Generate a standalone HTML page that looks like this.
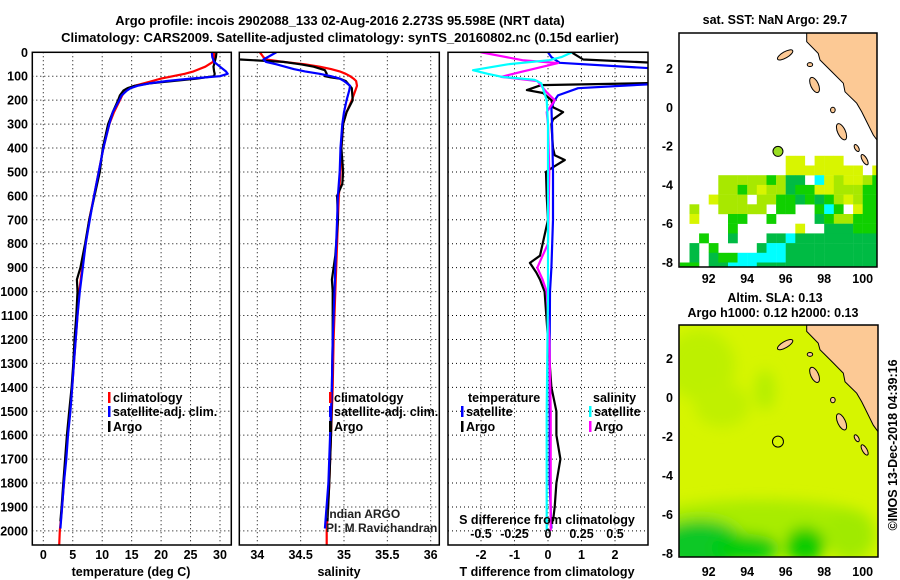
<!DOCTYPE html>
<html><head><meta charset="utf-8">
<style>
html,body{margin:0;padding:0;background:#fff;}
svg{display:block;font-family:"Liberation Sans",Arial,sans-serif;}
.b{font-weight:bold;font-size:12.5px;}
.t{font-weight:bold;font-size:13px;}
</style></head>
<body>
<svg id="chart" width="900" height="580" viewBox="0 0 900 580" xmlns="http://www.w3.org/2000/svg">
<defs>
<clipPath id="c1"><rect x="32.3" y="52.3" width="199" height="493"/></clipPath>
<clipPath id="c2"><rect x="239.3" y="52.3" width="200" height="493"/></clipPath>
<clipPath id="c3"><rect x="448" y="52.3" width="200" height="493"/></clipPath>
<clipPath id="m1"><rect x="679" y="33" width="198" height="234"/></clipPath>
<clipPath id="m2"><rect x="679" y="325" width="199" height="232"/></clipPath>
<filter id="blur" x="-50%" y="-50%" width="200%" height="200%"><feGaussianBlur stdDeviation="7"/></filter>
</defs>
<text class="t" x="340" y="25" text-anchor="middle">Argo profile: incois 2902088_133 02-Aug-2016 2.273S 95.598E (NRT data)</text>
<text class="t" x="340" y="42" text-anchor="middle">Climatology: CARS2009. Satellite-adjusted climatology: synTS_20160802.nc (0.15d earlier)</text>
<g id="grid"></g>
<g id="series"></g>
<g id="maps"></g>
<g id="frames"></g>
<g id="labels"></g>
</svg>
<script>
// ---------- Data ----------
const tempDepth = [0,20,40,60,80,90,100,110,120,130,140,150,160,180,200,250,300,400,500,600,700,800,900,1000,1100,1200,1300,1400,1500,1600,1700,1800,1900,2000,2060];
const tempClim  = [29.0,29.0,28.8,27.5,25.5,24,22,20,18.5,17,15.5,14.5,14,13.4,13.0,12.0,11.2,10.2,9.4,8.6,7.8,7.2,6.6,6.1,5.8,5.5,5.2,4.9,4.5,4.1,3.8,3.5,3.2,2.8,2.7];
const tempSatDepth = [0,20,40,60,80,90,100,110,120,130,140,150,160,180,200,250,300,400,500,600,700,800,900,1000,1100,1200,1300,1400,1500,1600,1700,1800,1900,1990];
const tempSat   = [28.6,28.7,29.0,30.0,31.0,31.3,30.0,25,21,18,16,14.8,14.2,13.3,12.9,11.8,11.2,10.2,9.4,8.6,7.9,7.2,6.7,6.2,5.8,5.5,5.2,4.9,4.6,4.2,3.9,3.5,3.2,2.9];
const tempArgoDepth = [0,20,40,60,80,90,100,110,120,130,140,150,160,180,200,250,300,400,500,600,700,800,900,950,1000,1100,1200,1300,1400,1500,1600,1700,1800,1900,1960];
const tempArgo  = [29.4,29.3,29.1,28.9,29.0,29.1,29.0,26,22,18,15.5,14.3,13.6,13.0,12.7,11.8,11.0,10.1,9.6,8.7,7.8,7.1,6.3,5.7,5.8,5.6,5.3,5.1,4.8,4.4,4.0,3.7,3.4,3.1,2.9];

const salDepth = [0,20,30,40,50,60,70,80,90,100,110,120,140,160,200,250,300,400,500,600,700,800,900,1000,1200,1400,1600,1800,2000,2060];
const salClim  = [34.03,34.07,34.10,34.3,34.55,34.72,34.85,34.95,35.02,35.07,35.11,35.14,35.15,35.13,35.09,35.03,34.99,34.97,34.96,34.94,34.93,34.92,34.91,34.90,34.88,34.87,34.85,34.83,34.80,34.80];
const salSatDepth = [0,20,30,40,50,60,70,80,90,100,110,120,140,160,200,250,300,400,500,600,700,800,900,1000,1200,1400,1600,1800,1990];
const salSat   = [34.22,34.12,34.07,34.10,34.22,34.32,34.42,34.55,34.72,34.85,34.95,35.0,35.07,35.06,35.03,35.0,34.98,34.96,34.95,34.93,34.92,34.91,34.90,34.89,34.87,34.86,34.84,34.82,34.78];
const salArgoDepth = [30,40,50,60,75,90,100,105,110,120,150,200,250,300,400,500,550,600,700,800,850,900,950,1000,1100,1200,1400,1600,1800,1960];
const salArgo  = [33.8,34.3,34.5,34.65,34.78,34.80,34.78,34.85,34.95,35.02,35.09,35.1,35.03,34.99,34.97,34.99,34.98,34.92,34.93,34.91,34.90,34.88,34.86,34.87,34.87,34.87,34.86,34.85,34.83,34.81];

const dTArgoDepth = [0,30,45,70,128,137,158,170,200,230,250,280,300,400,430,450,480,500,600,700,850,880,920,950,1000,1100,1200,1300,1400,1500,1600,1700,1800,1900,1960];
const dTArgo = [0.7,1.05,3.4,3.4,3.4,-0.2,-0.63,-0.15,0.1,0.15,0.45,0.15,0.1,0.15,0.2,0.5,0.15,-0.06,-0.04,0.0,-0.24,-0.54,-0.35,-0.24,-0.1,-0.05,0.0,0.05,0.1,0.25,0.25,0.37,0.25,0.2,0.15];
const dTSatDepth = [0,20,44,70,130,150,180,200,230,300,500,700,900,1000,1200,1500,1800,1990];
const dTSat = [0.0,0.1,0.35,3.5,3.5,0.9,0.3,0.2,0.1,0.12,0.15,0.15,0.1,0.06,0.05,0.05,0.05,0.1];
const dSSatDepth = [0,20,33,50,75,90,103,115,130,200,300,600,1000,1500,2000];
const dSSat = [0.18,0.1,0.01,-0.3,-0.56,-0.45,-0.34,-0.1,-0.05,-0.01,0,0,0,-0.01,-0.01];
const dSArgoDepth = [0,33,45,83,103,120,167,200,250,300,500,800,850,900,950,1000,1200,1500,2000];
const dSArgo = [-0.5,-0.19,0.075,-0.21,-0.35,-0.08,-0.01,0.05,-0.01,0.0,0.01,0.0,-0.04,-0.08,-0.04,-0.01,0.01,0.02,0.02];

const depthTicks = [0,100,200,300,400,500,600,700,800,900,1000,1100,1200,1300,1400,1500,1600,1700,1800,1900,2000];
const tempTicks = [0,5,10,15,20,25,30];
const salTicks = [34,34.5,35,35.5,36];
const salTickLabels = ["34","34.5","35","35.5","36"];
const dTTicks = [-2,-1,0,1,2];
const dSTicks = [-0.5,-0.25,0,0.25,0.5];
const dSTickLabels = ["-0.5","-0.25","0","0.25","0.5"];
const lonTicks = [92,94,96,98,100];
const latTicks = [2,0,-2,-4,-6,-8];

// SST grid (0.5 deg cells from lon 90.5, lat -2.5 downward)
const sstRows = [
"...........yy.yyy....",
"...........yyyyyyyy.y",
"....lllllglGG.cylyylg",
"....llglyllGggyylllgg",
"...ylll.llggGgGglylgg",
".l..lllll.gg..gcg.ygg",
".y...gg..g....Ggllggg",
".....g......y..GGGggg",
"..g..G...GGcGGGGGGGGG",
".G.g....GccGGGGGGGGGG",
".G.GggcccccGGGGGGGGGG",
"gg.GGcccGGGGGGGGGGGGG"];
const argoLon = 95.598, argoLat = -2.273;

// ---------- Axis functions ----------
const Y0 = 52.3, YB = 545;
const yD = d => Y0 + d*0.2393;
const xT = t => 43.3 + t*5.89;
const xS = s => 257.3 + (s-34)*86.7;
const xDT = d => 548 + d*33.5;
const xDS = s => 548 + s*134;
const lonX = l => 862.7 + (l-100)*19.25;
const latY1 = l => 107.3 - l*19.4;
const latY2 = l => 397.3 - l*19.5;

const NS = "http://www.w3.org/2000/svg";
function mk(tag, attrs, parent){ const e=document.createElementNS(NS,tag); for(const k in attrs) e.setAttribute(k,attrs[k]); parent.appendChild(e); return e; }
const G = id => document.getElementById(id);

// ---------- Grids ----------
const grid = G('grid');
const panels = [
 {x0:32.3,x1:231.3,fx:xT,ticks:tempTicks,labels:tempTicks.map(String),name:'temperature'},
 {x0:239.3,x1:439.3,fx:xS,ticks:salTicks,labels:salTickLabels,name:'salinity'},
 {x0:448,x1:648,fx:xDT,ticks:dTTicks,labels:dTTicks.map(String),name:'t-difference'}];
panels.forEach(p=>{
  depthTicks.forEach(d=>{ if(d===0) return;
    const l=mk('line',{x1:p.x0,x2:p.x1,y1:yD(d),y2:yD(d),stroke:'#000','stroke-width':1,'stroke-dasharray':'1,3'},grid);
    
    
  });
  p.ticks.forEach(t=>{
    const l=mk('line',{x1:p.fx(t),x2:p.fx(t),y1:Y0,y2:YB,stroke:'#000','stroke-width':1,'stroke-dasharray':'1,3'},grid);
    
    
  });
});

// ---------- Series ----------
const ser = G('series');
function line(depths, vals, fx, color, clip, name){
  const pts = depths.map((d,i)=>fx(vals[i]).toFixed(1)+','+yD(d).toFixed(1)).join(' ');
  const e = mk('polyline',{points:pts,fill:'none',stroke:color,'stroke-width':2.2,'stroke-linejoin':'round','clip-path':'url(#'+clip+')'},ser);
  
  
}
line(tempDepth,tempClim,xT,'#ff0000','c1','temp-climatology-line');
line(tempArgoDepth,tempArgo,xT,'#000000','c1','temp-argo-line');
line(tempSatDepth,tempSat,xT,'#0000ff','c1','temp-satellite-line');
line(salDepth,salClim,xS,'#ff0000','c2','salinity-climatology-line');
line(salArgoDepth,salArgo,xS,'#000000','c2','salinity-argo-line');
line(salSatDepth,salSat,xS,'#0000ff','c2','salinity-satellite-line');
line(dTArgoDepth,dTArgo,xDT,'#000000','c3','t-diff-argo-line');
line(dTSatDepth,dTSat,xDT,'#0000ff','c3','t-diff-satellite-line');
line(dSArgoDepth,dSArgo,xDS,'#ff00ff','c3','s-diff-argo-line');
line(dSSatDepth,dSSat,xDS,'#00ffff','c3','s-diff-satellite-line');

// ---------- Maps ----------
const maps = G('maps');
const coast = [[97.09,4.2],[97.09,3.38],[97.69,2.78],[97.78,2.44],[98.39,1.84],[98.99,1.24],[99.08,0.80],[99.69,0.21],[99.95,-0.23],[100.12,-0.57],[100.55,-1.43],[100.9,-1.9],[100.9,4.2]];
const islands = [[95.97,2.7,0.45,0.16,-30],[97.26,2.2,0.14,0.1,0],[97.5,1.15,0.2,0.42,-25],[98.45,-0.14,0.12,0.14,0],[98.9,-1.26,0.2,0.45,-25],[99.69,-2.1,0.1,0.2,-30],[100.1,-2.7,0.12,0.3,-30]];
const colors = {y:'#d8f500',l:'#a8e800',g:'#10d000',G:'#00bb44',c:'#00ffff'};

function drawLand(latY, clip, grp){
  const pts = coast.map(p=>lonX(p[0]).toFixed(1)+','+latY(p[1]).toFixed(1)).join(' ');
  const c = mk('polygon',{points:pts,fill:'#fcc995',stroke:'#000','stroke-width':1,'clip-path':'url(#'+clip+')'},grp);
  
  
  islands.forEach(s=>{
    const cx=lonX(s[0]), cy=latY(s[1]);
    const e = mk('ellipse',{cx:cx,cy:cy,rx:s[2]*19.3,ry:s[3]*19.4,fill:'#fcc995',stroke:'#000','stroke-width':1,transform:'rotate('+s[4]+' '+cx+' '+cy+')','clip-path':'url(#'+clip+')'},grp);
    
    
  });
}

// Map 1: SST
const g1 = mk('g',{'clip-path':'url(#m1)'},maps);


sstRows.forEach((row,r)=>{
  [...row].forEach((ch,c)=>{
    if(ch==='.') return;
    const lon0=90.5+c*0.5, lat0=-2.5-r*0.5;
    const x=lonX(lon0), y=latY1(lat0);
    const cell = mk('rect',{x:x.toFixed(1),y:y.toFixed(1),width:9.8,height:9.9,fill:colors[ch]},g1);
    
    
  });
});
drawLand(latY1,'m1',maps);
const dot1 = mk('circle',{cx:lonX(argoLon),cy:latY1(argoLat),r:5,fill:'#99dd22',stroke:'#000','stroke-width':1},maps);



// Map 2: SLA
const g2 = mk('g',{'clip-path':'url(#m2)'},maps);


mk('rect',{x:679,y:325,width:199,height:232,fill:'#d6f500'},g2);
const blobs = mk('g',{filter:'url(#blur)'},g2);
[[700,365,35,35,'#bdf000'],[722,405,28,22,'#c0f000'],[765,390,10,20,'#b4ee00'],
 [760,520,110,20,'#a8ec00'],[700,545,45,25,'#10c828'],[745,548,35,14,'#00cc10'],[805,545,20,18,'#10cc00'],
 [850,535,25,25,'#a0ea00'],[870,340,14,12,'#66dd00']].forEach(b=>{
  const e=mk('ellipse',{cx:b[0],cy:b[1],rx:b[2],ry:b[3],fill:b[4]},blobs);
  
  
});
drawLand(latY2,'m2',maps);
const dot2 = mk('circle',{cx:lonX(argoLon),cy:latY2(argoLat),r:5.5,fill:'none',stroke:'#000','stroke-width':1},maps);



// ---------- Frames ----------
const fr = G('frames');
[[32.3,52.3,199,492.7],[239.3,52.3,200,492.7],[448,52.3,200,492.7],[679,33,198,234],[679,325,199,232]].forEach(b=>{
  const r=mk('rect',{x:b[0],y:b[1],width:b[2],height:b[3],fill:'none',stroke:'#000','stroke-width':1.5},fr);
  
  
});

// ---------- Labels ----------
const lb = G('labels');
function txt(x,y,s,name,anchor,cls,extra){
  const e=mk('text',Object.assign({x:x,y:y,'text-anchor':anchor||'middle',class:cls||'b'},extra||{}),lb);
  e.textContent=s;
  
  
  return e;
}
depthTicks.forEach(d=>txt(28,yD(d)+4.5,String(d),'depth-tick-label','end'));
panels.forEach(p=>p.ticks.forEach((t,i)=>txt(p.fx(t),559,p.labels[i],p.name+'-tick-label')));
txt(131,576,'temperature (deg C)','temperature-axis-title');
txt(339,576,'salinity','salinity-axis-title');
txt(547,576,'T difference from climatology','t-difference-axis-title');
dSTicks.forEach((s,i)=>txt(xDS(s),538,dSTickLabels[i],'s-difference-tick-label'));
txt(547,524,'S difference from climatology','s-difference-axis-title');

function legend(x,y,color,label,name){
  const m=mk('rect',{x:x,y:y-10,width:2.5,height:11,fill:color},lb);
  
  
  txt(x+5,y,label,name,'start');
}
legend(108,402,'#ff0000','climatology','legend-climatology');
legend(108,416,'#0000ff','satellite-adj. clim.','legend-satellite-adj');
legend(108,431,'#000','Argo','legend-argo');
legend(329,402,'#ff0000','climatology','salinity-legend-climatology');
legend(329,416,'#0000ff','satellite-adj. clim.','salinity-legend-satellite-adj');
legend(329,431,'#000','Argo','salinity-legend-argo');
txt(468,402,'temperature','diff-legend-temperature-heading','start');
txt(593,402,'salinity','diff-legend-salinity-heading','start');
legend(461,416,'#0000ff','satellite','diff-legend-t-satellite');
legend(461,431,'#000','Argo','diff-legend-t-argo');
legend(589,416,'#00ffff','satellite','diff-legend-s-satellite');
legend(589,431,'#ff00ff','Argo','diff-legend-s-argo');
txt(326,518,'Indian ARGO','credit-indian-argo','start','',{style:'font-size:12px;fill:#222'});
txt(326,532,'PI: M Ravichandran','credit-pi','start','',{style:'font-size:12px;fill:#222'});

txt(775,24,'sat. SST: NaN Argo: 29.7','sst-map-title');
txt(775,302,'Altim. SLA: 0.13','sla-map-title-1');
txt(773,317,'Argo h1000: 0.12 h2000: 0.13','sla-map-title-2');
lonTicks.forEach(l=>{ txt(lonX(l),283,String(l),'sst-lon-tick-label'); txt(lonX(l),576,String(l),'sla-lon-tick-label'); });
latTicks.forEach(l=>{ txt(673,latY1(l)+4.5,String(l),'sst-lat-tick-label','end'); txt(673,latY2(l)+4.5,String(l),'sla-lat-tick-label','end'); });
txt(0,0,'©IMOS 13-Dec-2018 04:39:16','copyright-stamp','middle','',{transform:'translate(897,445) rotate(-90)',style:'font-size:12.5px'});
</script>
</body></html>
